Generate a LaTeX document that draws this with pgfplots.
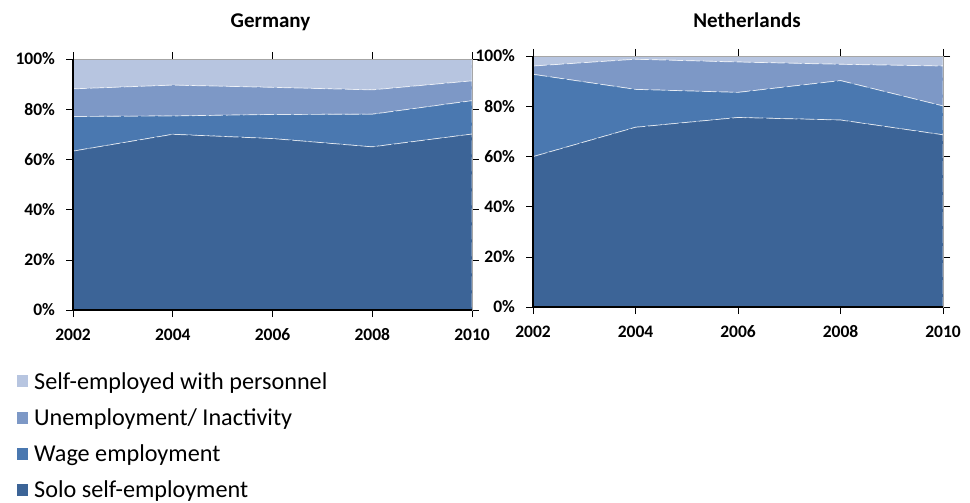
\documentclass[border=0pt]{standalone}
\usepackage{pgfplots}
\pgfplotsset{compat=1.18}
\usepackage{fontspec}
\setmainfont{Carlito}
\definecolor{cSolo}{HTML}{3C6497}
\definecolor{cWage}{HTML}{4A78B0}
\definecolor{cUnemp}{HTML}{7D98C6}
\definecolor{cSelf}{HTML}{B7C5E0}
\pgfplotsset{
  myaxis/.style={
    scale only axis,
    width=399pt, height=251pt,
    xmin=2002, xmax=2010, ymin=0, ymax=100,
    xtick={2002,2004,2006,2008,2010},
    ytick={0,20,40,60,80,100},
    yticklabel={\pgfmathprintnumber{\tick}\%},
    /pgf/number format/assume math mode=true,
    x tick label style={/pgf/number format/1000 sep={}, yshift=-8pt},
    y tick label style={xshift=-7.5pt},
    ticklabel style={font=\bfseries\fontsize{17.5}{17.5}\selectfont},
    tick align=outside,
    major tick length=7pt,
    tick style={black, line width=0.6pt},
    axis line style={draw=gray!70, line width=0.8pt},
    axis on top,
    stack plots=y,
    area style,
    every axis plot/.append style={draw=white, draw opacity=0.75, line width=0.7pt, dash pattern=on 14pt off 3pt},
    title style={font=\bfseries\fontsize{21}{21}\selectfont, anchor=base, at={(0.5,1)}},
    clip=true,
    after end axis/.code={
      \draw[black, line width=1.1pt] (rel axis cs:0,1) -- (rel axis cs:0,0) -- (rel axis cs:1,0);
    },
  }
}
\begin{document}
\begin{tikzpicture}
\useasboundingbox (0,0) rectangle (970pt,-503pt);
% Germany
\begin{axis}[myaxis, at={(73pt,-310pt)}, anchor=south west,
  title={Germany}, title style={xshift=-2pt, yshift=26pt},
  reverse legend,
  legend style={at={(0,0)}, anchor=north west, xshift=-59pt, yshift=-58pt,
    draw=none, fill=none, font=\fontsize{24.2}{24.2}\selectfont,
    row sep=14pt, nodes={inner sep=2pt, anchor=west},
    /tikz/every odd column/.append style={column sep=4pt}},
  legend cell align=left,
  legend image code/.code={\fill[#1, draw=none, solid] (0pt,-6pt) rectangle (11pt,6pt);},
]
\addplot[fill=cSolo] coordinates {(2002,63.3) (2004,70.0) (2006,68.3) (2008,65.0) (2010,70.1)} \closedcycle;
\addlegendentry{Solo self-employment}
\addplot[fill=cWage] coordinates {(2002,13.8) (2004,7.3) (2006,9.6) (2008,13.0) (2010,13.3)} \closedcycle;
\addlegendentry{Wage employment}
\addplot[fill=cUnemp] coordinates {(2002,11.0) (2004,12.3) (2006,10.8) (2008,9.7) (2010,7.9)} \closedcycle;
\addlegendentry{Unemployment/ Inactivity}
\addplot[fill=cSelf] coordinates {(2002,11.9) (2004,10.4) (2006,11.3) (2008,12.3) (2010,8.7)} \closedcycle;
\addlegendentry{Self-employed with personnel}
\end{axis}
% Netherlands
\begin{axis}[myaxis, at={(533pt,-307pt)}, anchor=south west, width=410pt,
  title={Netherlands}, title style={xshift=9pt, yshift=22pt}]
\addplot[fill=cSolo] coordinates {(2002,59.9) (2004,71.6) (2006,75.5) (2008,74.5) (2010,68.6)} \closedcycle;
\addplot[fill=cWage] coordinates {(2002,32.8) (2004,15.1) (2006,10.0) (2008,15.7) (2010,11.5)} \closedcycle;
\addplot[fill=cUnemp] coordinates {(2002,3.3) (2004,12.0) (2006,12.1) (2008,6.5) (2010,15.9)} \closedcycle;
\addplot[fill=cSelf] coordinates {(2002,4.0) (2004,1.3) (2006,2.4) (2008,3.3) (2010,4.0)} \closedcycle;
\end{axis}
\end{tikzpicture}
\end{document}
